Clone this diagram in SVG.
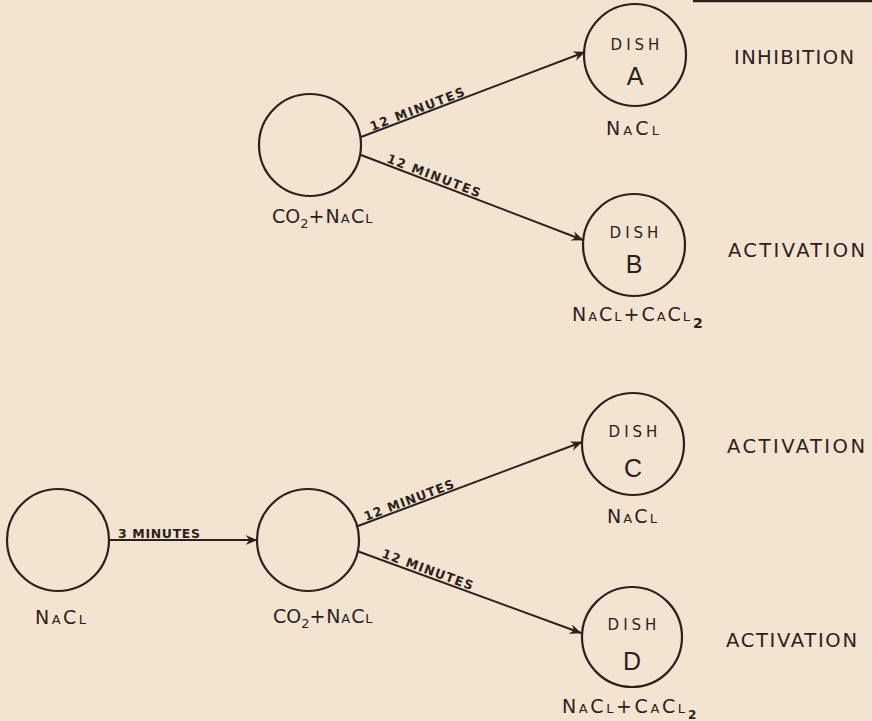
<svg xmlns="http://www.w3.org/2000/svg" width="872" height="721" viewBox="0 0 872 721">
<defs>
<style>
.bg{fill:#f3e4d1}
.node{fill:none;stroke:#2b211b;stroke-width:2.2}
.edge{fill:none;stroke:#2b211b;stroke-width:2}
.t{font-family:"DejaVu Sans","Liberation Sans",sans-serif;fill:#2b211b}
.sc{font-variant:small-caps}
.dish{font-size:15px;text-anchor:middle}
.let{font-size:25px;text-anchor:middle;font-family:"Liberation Sans","DejaVu Sans",sans-serif}
.lab{font-size:19px}
.res{font-size:19.5px}
.min{font-size:12.5px;font-weight:bold}
</style>
<marker id="ah" viewBox="0 0 12 10" refX="11.5" refY="5" markerWidth="12" markerHeight="10" markerUnits="userSpaceOnUse" orient="auto">
<path d="M0,0 L12,5 L0,10 L4,5 z" fill="#2b211b"/>
</marker>
</defs>
<rect class="bg" x="0" y="0" width="872" height="721"/>
<line x1="693" y1="1" x2="872" y2="1" stroke="#2b211b" stroke-width="2.5"/>

<g id="connectors">
<line class="edge" x1="361" y1="137" x2="585" y2="52" marker-end="url(#ah)"/>
<line class="edge" x1="361" y1="155" x2="583" y2="240" marker-end="url(#ah)"/>
<line class="edge" x1="108" y1="540" x2="257" y2="540" marker-end="url(#ah)"/>
<line class="edge" x1="358" y1="526" x2="582" y2="442" marker-end="url(#ah)"/>
<line class="edge" x1="357" y1="551" x2="581" y2="633" marker-end="url(#ah)"/>
<text class="t min" transform="translate(372,131) rotate(-20.9)" textLength="100" lengthAdjust="spacing">12 MINUTES</text>
<text class="t min" transform="translate(386,162) rotate(20.95)" textLength="99" lengthAdjust="spacing">12 MINUTES</text>
<text class="t min" x="118" y="538" textLength="82" lengthAdjust="spacing">3 MINUTES</text>
<text class="t min" transform="translate(366,521) rotate(-20.56)" textLength="95" lengthAdjust="spacing">12 MINUTES</text>
<text class="t min" transform="translate(381,557) rotate(20.2)" textLength="96" lengthAdjust="spacing">12 MINUTES</text>
</g>

<g id="src1">
<circle class="node" cx="310" cy="145" r="51"/>
<text class="t lab" x="272" y="223">CO<tspan font-size="13" dy="5">2</tspan><tspan dy="-5" class="sc" textLength="64" lengthAdjust="spacing">+NaCl</tspan></text>
</g>

<g id="dishA">
<circle class="node" cx="635" cy="55" r="51"/>
<text class="t dish" x="637" y="50" letter-spacing="4">DISH</text>
<text class="t let" x="635" y="85">A</text>
<text class="t lab sc" x="606" y="135" textLength="53" lengthAdjust="spacing">NaCl</text>
<text class="t res" x="734" y="64" textLength="120" lengthAdjust="spacing">INHIBITION</text>
</g>

<g id="dishB">
<circle class="node" cx="634" cy="245" r="51"/>
<text class="t dish" x="636" y="238" letter-spacing="4">DISH</text>
<text class="t let" x="634" y="273">B</text>
<text class="t lab sc" x="572" y="321" textLength="118" lengthAdjust="spacing">NaCl+CaCl</text>
<text class="t" font-size="14" font-weight="bold" x="693" y="328">2</text>
<text class="t res" x="728" y="257" textLength="137" lengthAdjust="spacing">ACTIVATION</text>
</g>

<g id="src0">
<circle class="node" cx="58" cy="540" r="51"/>
<text class="t lab sc" x="35" y="624" textLength="51" lengthAdjust="spacing">NaCl</text>
</g>

<g id="src2">
<circle class="node" cx="308" cy="540" r="51"/>
<text class="t lab" x="273" y="623">CO<tspan font-size="13" dy="5">2</tspan><tspan dy="-5" class="sc" textLength="63" lengthAdjust="spacing">+NaCl</tspan></text>
</g>

<g id="dishC">
<circle class="node" cx="633" cy="444" r="51"/>
<text class="t dish" x="635" y="437" letter-spacing="4">DISH</text>
<text class="t let" x="633" y="477">C</text>
<text class="t lab sc" x="607" y="523" textLength="50" lengthAdjust="spacing">NaCl</text>
<text class="t res" x="727" y="453" textLength="138" lengthAdjust="spacing">ACTIVATION</text>
</g>

<g id="dishD">
<circle class="node" cx="632" cy="637" r="50"/>
<text class="t dish" x="634" y="630" letter-spacing="4">DISH</text>
<text class="t let" x="632" y="670">D</text>
<text class="t lab sc" x="562" y="713" textLength="123" lengthAdjust="spacing">NaCl+CaCl</text>
<text class="t" font-size="12" font-weight="bold" x="688" y="719">2</text>
<text class="t res" x="726" y="647" textLength="131" lengthAdjust="spacing">ACTIVATION</text>
</g>
</svg>
